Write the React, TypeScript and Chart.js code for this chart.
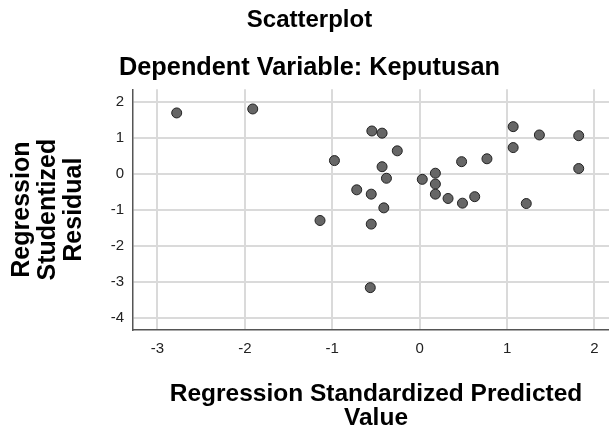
import React, { useEffect, useRef } from 'react';
import { Chart, registerables } from 'chart.js';

Chart.register(...registerables);

// Regression standardized predicted values (x) and studentized residuals (y)
const predicted = [
  -2.78, -1.91, -0.975, -1.14, -0.72, -0.547, -0.43, -0.256, -0.43, -0.38,
  -0.554, -0.41, -0.554, -0.565, 0.03, 0.18, 0.18, 0.18, 0.325, 0.49,
  0.63, 0.48, 0.77, 1.07, 1.07, 1.37, 1.22, 1.82, 1.82,
];
const residual = [
  1.69, 1.8, 0.37, -1.29, -0.44, 1.19, 1.13, 0.64, 0.2, -0.12,
  -0.56, -0.94, -1.39, -3.15, -0.15, 0.02, -0.28, -0.56, -0.68, -0.81,
  -0.63, 0.34, 0.42, 1.31, 0.73, 1.08, -0.82, 1.06, 0.15,
];

const xTickValues = [-3, -2, -1, 0, 1, 2];
const yTickValues = [-4, -3, -2, -1, 0, 1, 2];

const chartTitle = 'Scatterplot';
const chartSubtitle = 'Dependent Variable: Keputusan';
const xAxisTitle = ['Regression Standardized Predicted', 'Value'];
const yAxisTitle = ['Regression', 'Studentized', 'Residual'];

const FAMILY = '"Liberation Sans", Arial, Helvetica, sans-serif';

export default function App() {
  const ref = useRef<HTMLCanvasElement>(null);

  useEffect(() => {
    document.body.style.margin = '0';
    document.body.style.overflow = 'hidden';
    const points = predicted.map((x, i) => ({ x, y: residual[i] }));
    const chart = new Chart(ref.current as HTMLCanvasElement, {
      type: 'scatter',
      data: {
        datasets: [
          {
            data: points,
            pointRadius: 5,
            pointHoverRadius: 5,
            backgroundColor: '#666666',
            borderColor: '#222222',
            borderWidth: 1,
          },
        ],
      },
      options: {
        animation: false,
        responsive: false,
        devicePixelRatio: 1,
        layout: { padding: 0, autoPadding: false },
        plugins: {
          legend: { display: false },
          tooltip: { enabled: false },
          title: {
            display: true,
            text: chartTitle,
            color: '#000',
            font: { family: FAMILY, size: 24, weight: 'bold', lineHeight: 1.2 },
            padding: { top: 6, bottom: 18.5 },
          },
          subtitle: {
            display: true,
            text: chartSubtitle,
            color: '#000',
            font: { family: FAMILY, size: 25.3, weight: 'bold', lineHeight: 1.2 },
            padding: { top: 0, bottom: 5.6 },
          },
        },
        scales: {
          x: {
            type: 'linear',
            position: 'bottom',
            min: -3.28,
            max: 2.281,
            afterBuildTicks: (s: any) => {
              s.ticks = xTickValues.map((v) => ({ value: v }));
            },
            afterFit: (s: any) => {
              s.height = 100;
              s.paddingLeft = 0;
              s.paddingRight = 0;
            },
            grid: { color: '#dadada', lineWidth: 2, drawTicks: false },
            border: { color: '#555', width: 1.5 },
            ticks: {
              color: '#222',
              font: { family: FAMILY, size: 15 },
              padding: 10,
              maxRotation: 0,
              autoSkip: false,
              callback: (v: any) => String(v),
            },
            title: {
              display: true,
              text: xAxisTitle,
              color: '#000',
              font: { family: FAMILY, size: 24.5, weight: 'bold', lineHeight: 24 / 24.5 },
              padding: { top: 0, bottom: 0 },
            },
          },
          y: {
            type: 'linear',
            position: 'left',
            min: -4.324,
            max: 2.346,
            afterBuildTicks: (s: any) => {
              s.ticks = yTickValues.map((v) => ({ value: v }));
            },
            afterFit: (s: any) => {
              s.width = 133;
              s.paddingTop = 0;
              s.paddingBottom = 0;
            },
            grid: { color: '#dadada', lineWidth: 2, drawTicks: false },
            border: { color: '#555', width: 1.5 },
            ticks: {
              color: '#222',
              font: { family: FAMILY, size: 15 },
              padding: 9,
              autoSkip: false,
              callback: (v: any) => String(v),
            },
            title: {
              display: true,
              text: yAxisTitle,
              color: '#000',
              font: { family: FAMILY, size: 25, weight: 'bold', lineHeight: 26 / 25 },
              padding: { top: 9, bottom: 0 },
            },
          },
        },
      },
    } as any);
    return () => chart.destroy();
  }, []);

  return (
    <div style={{ width: 609, height: 430, overflow: 'hidden', background: '#fff' }}>
      <canvas ref={ref} width={619} height={430} style={{ display: 'block' }} />
    </div>
  );
}
